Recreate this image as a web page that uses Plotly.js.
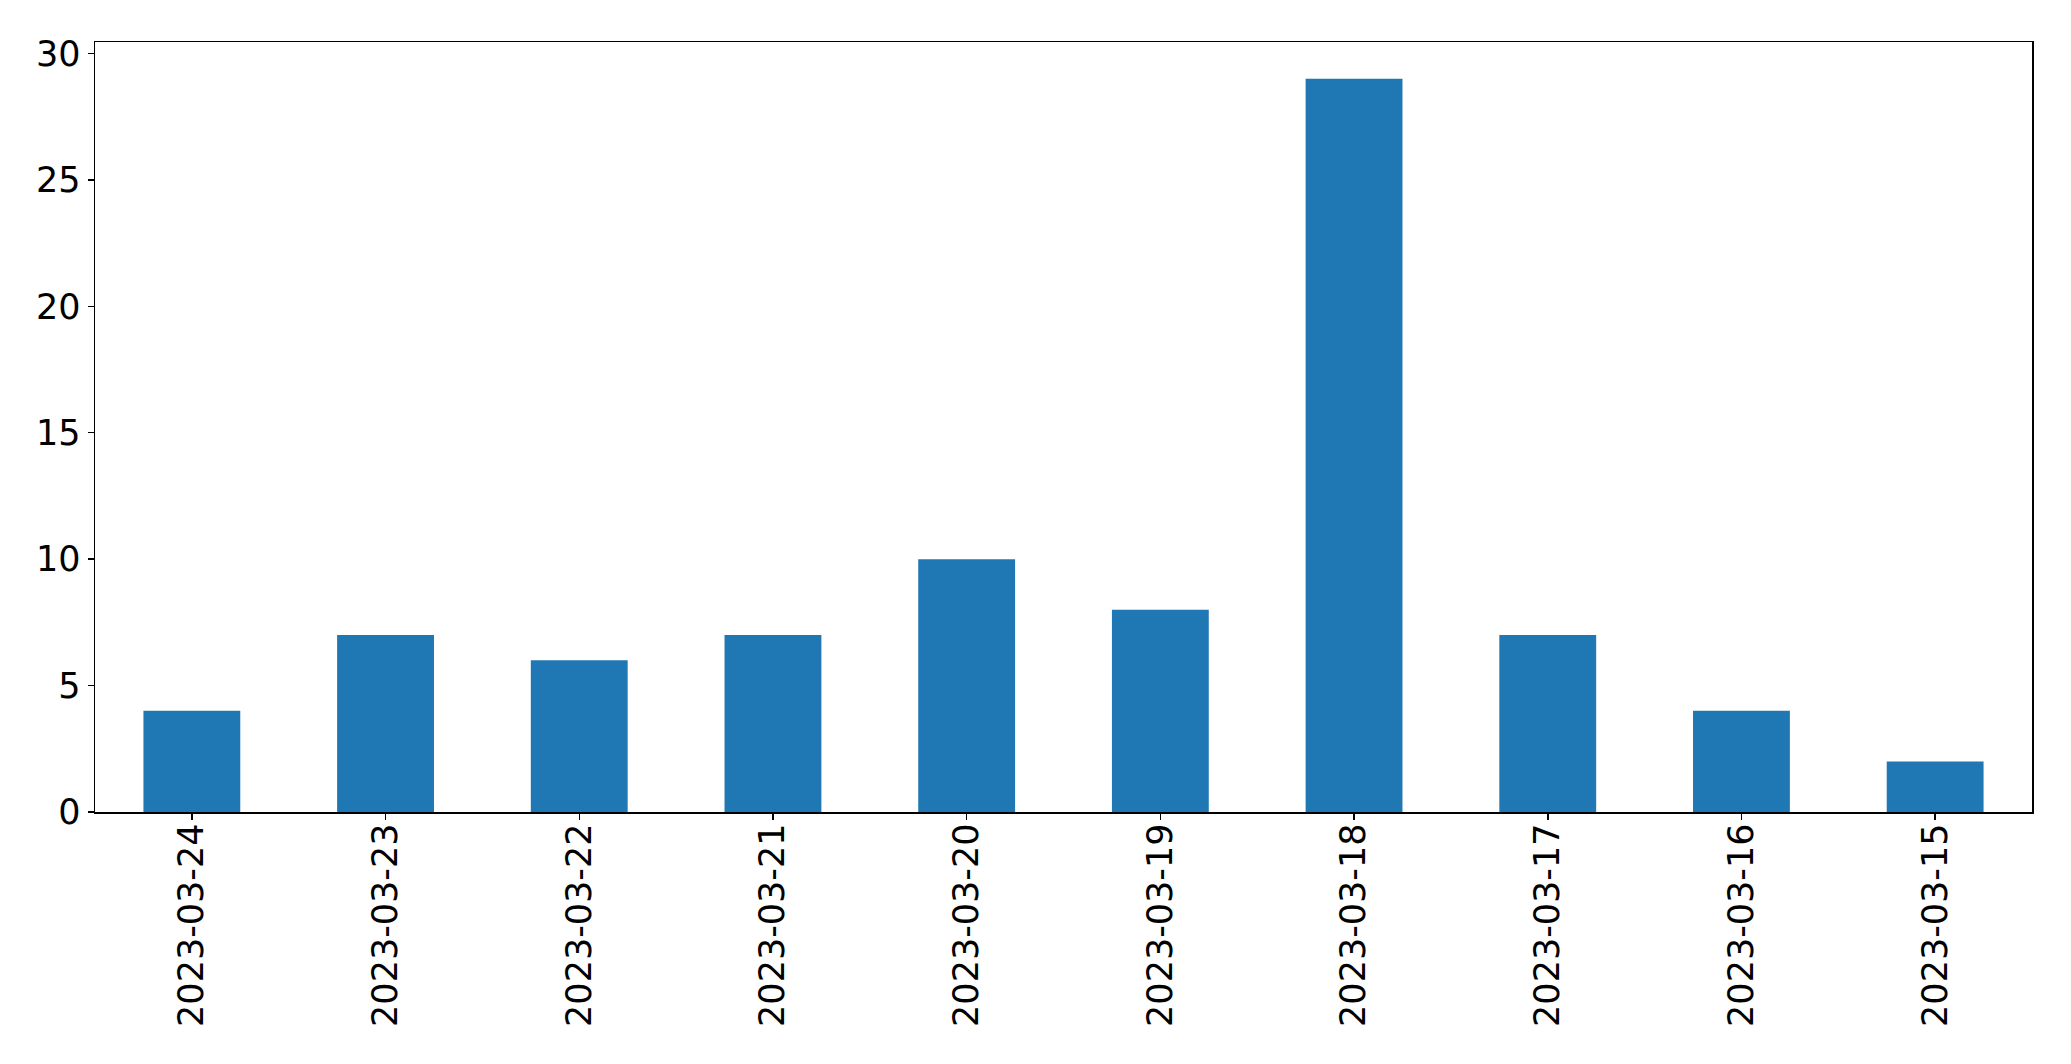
<!DOCTYPE html>
<html>
<head>
<meta charset="utf-8">
<script src="https://cdn.plot.ly/plotly-3.0.1.min.js"></script>
<style>html,body{margin:0;padding:0;background:#fff;}#chart{width:2071px;height:1064px;}</style>
</head>
<body>
<div id="chart"></div>
<script>
const categories = ["2023-03-24","2023-03-23","2023-03-22","2023-03-21","2023-03-20","2023-03-19","2023-03-18","2023-03-17","2023-03-16","2023-03-15"];
const values = [4, 7, 6, 7, 10, 8, 29, 7, 4, 2];
const yTicks = [0, 5, 10, 15, 20, 25, 30];

const trace = {
  type: "bar",
  x: categories,
  y: values,
  width: 0.5,
  marker: {color: "#1f77b4", line: {width: 0}},
  hoverinfo: "x+y"
};

const layout = {
  width: 2071,
  height: 1064,
  paper_bgcolor: "#ffffff",
  plot_bgcolor: "#ffffff",
  margin: {l: 95, r: 39, t: 42, b: 252, pad: 0},
  showlegend: false,
  font: {family: "DejaVu Sans", size: 35, color: "#000"},
  xaxis: {
    type: "category",
    range: [-0.5, 9.5],
    tickangle: -90,
    showline: true, mirror: true, linecolor: "#000000", linewidth: 1.5,
    ticks: "outside", ticklen: 6, tickwidth: 1.5, tickcolor: "#000000",
    showgrid: false, zeroline: false,
    tickfont: {family: "DejaVu Sans", size: 35, color: "#000"},
    ticklabelstandoff: -10
  },
  yaxis: {
    range: [0, 30.45],
    tickvals: yTicks,
    ticktext: yTicks.map(String),
    showline: true, mirror: true, linecolor: "#000000", linewidth: 1.5,
    ticks: "outside", ticklen: 6, tickwidth: 1.5, tickcolor: "#000000",
    showgrid: false, zeroline: false,
    tickfont: {family: "DejaVu Sans", size: 35, color: "#000"},
    ticklabelstandoff: 0
  }
};

Plotly.newPlot("chart", [trace], layout, {displayModeBar: false, staticPlot: true});
</script>
</body>
</html>
